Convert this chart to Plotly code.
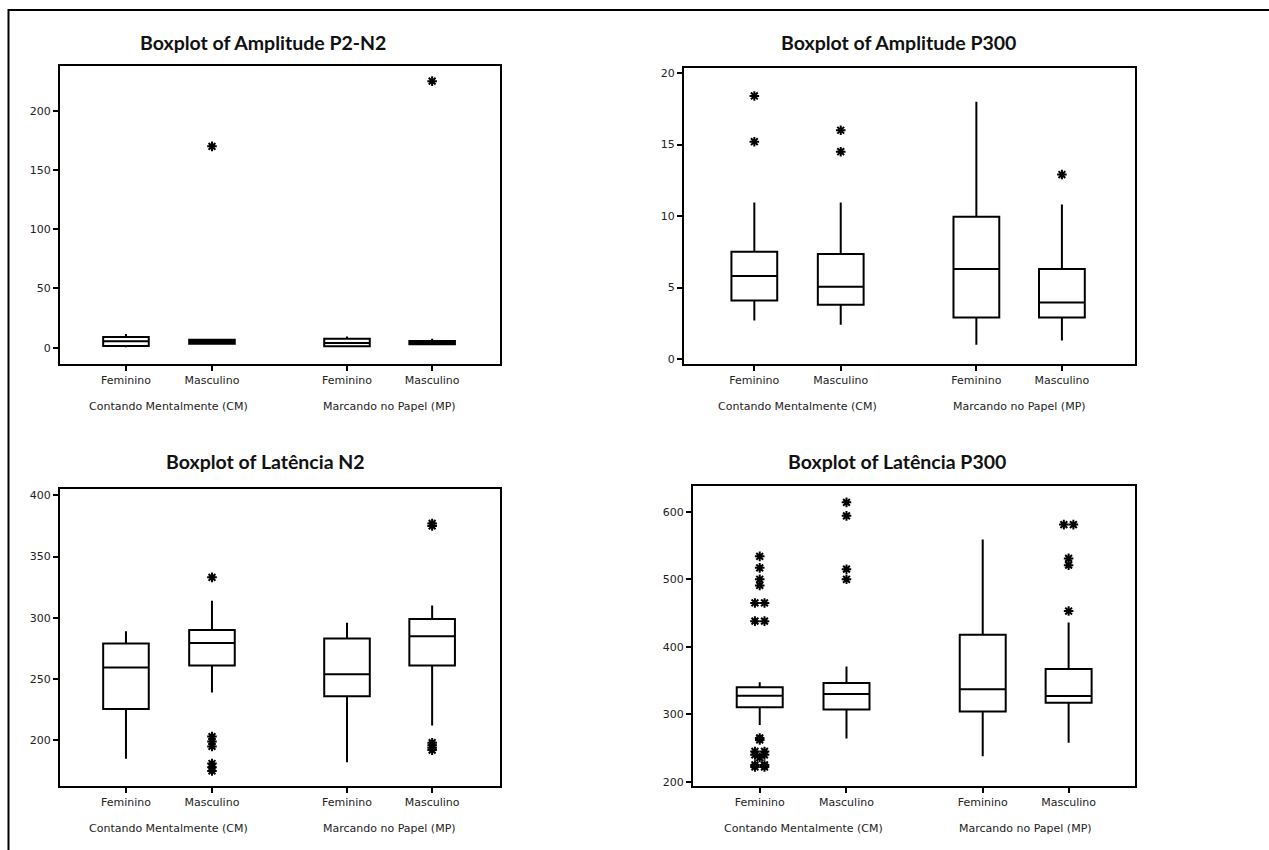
import plotly.graph_objects as go
from collections import Counter

W, H = 1269, 850

genders = ["Feminino", "Masculino", "Feminino", "Masculino"]
groups = ["Contando Mentalmente (CM)", "Marcando no Papel (MP)"]
titles = ["Boxplot of Amplitude P2-N2", "Boxplot of Amplitude P300",
          "Boxplot of Latência N2", "Boxplot of Latência P300"]

# Amplitude P2-N2  (order: CM-Fem, CM-Masc, MP-Fem, MP-Masc)
amp_p2n2_low = [0.5, 3.0, 0.8, 2.8]
amp_p2n2_q1 = [1.5, 3.4, 1.2, 3.0]
amp_p2n2_med = [5.5, 5.0, 4.0, 4.5]
amp_p2n2_q3 = [9.0, 6.7, 7.5, 5.7]
amp_p2n2_high = [11.5, 7.5, 9.5, 7.5]
amp_p2n2_out = [[], [170], [], [225]]

# Amplitude P300
amp_p300_low = [2.7, 2.4, 1.0, 1.3]
amp_p300_q1 = [4.1, 3.8, 2.9, 2.9]
amp_p300_med = [5.8, 5.05, 6.3, 3.95]
amp_p300_q3 = [7.5, 7.35, 9.95, 6.3]
amp_p300_high = [10.95, 10.95, 18.0, 10.8]
amp_p300_out = [[18.4, 15.2], [16.0, 14.5], [], [12.9]]

# Latência N2
lat_n2_low = [185, 239, 182, 212]
lat_n2_q1 = [225.5, 261, 236, 261]
lat_n2_med = [259.5, 279.5, 254, 285]
lat_n2_q3 = [279, 290, 283, 299]
lat_n2_high = [289, 314, 296, 310]
lat_n2_out = [[], [333, 203, 199, 195, 181, 178, 175], [],
              [377, 375, 198, 196, 194, 192]]

# Latência P300
lat_p300_low = [284, 264, 238, 258]
lat_p300_q1 = [310.5, 307, 304, 317]
lat_p300_med = [327.5, 330, 337, 327]
lat_p300_q3 = [340, 346.5, 418, 367]
lat_p300_high = [347.5, 371, 559, 436]
lat_p300_out = [[534, 517, 500, 491, 465, 465, 438, 438,
                 265, 262, 245, 245, 240, 240, 236, 225, 225, 222, 222],
                [614, 594, 515, 500], [],
                [581, 581, 531, 521, 453]]

panels = [
    (amp_p2n2_low, amp_p2n2_q1, amp_p2n2_med, amp_p2n2_q3, amp_p2n2_high, amp_p2n2_out),
    (amp_p300_low, amp_p300_q1, amp_p300_med, amp_p300_q3, amp_p300_high, amp_p300_out),
    (lat_n2_low, lat_n2_q1, lat_n2_med, lat_n2_q3, lat_n2_high, lat_n2_out),
    (lat_p300_low, lat_p300_q1, lat_p300_med, lat_p300_q3, lat_p300_high, lat_p300_out),
]

# layout settings (pixels)
pos = [1, 2, 3.57, 4.56]
dom_px = [((60, 500), (65, 364)), ((684, 1135), (67, 364)),
          ((60, 500), (490, 788)), ((693, 1135), (487, 788))]
xranges = [[0.233, 5.349], [0.186, 5.406], [0.233, 5.349], [0.231, 5.325]]
yranges = [[-13.5, 238], [-0.33, 20.37], [162.5, 404.9], [193.5, 637.8]]
ytickvals = [[0, 50, 100, 150, 200], [0, 5, 10, 15, 20],
             [200, 250, 300, 350, 400], [200, 300, 400, 500, 600]]
title_px = [(263, 42), (898, 42), (265, 462), (897, 462)]
group_y_px = [406.5, 406.5, 830, 830]

fig = go.Figure()
annotations = []
for p, (low, q1, med, q3, high, outs) in enumerate(panels):
    xa = "x" if p == 0 else f"x{p+1}"
    ya = "y" if p == 0 else f"y{p+1}"
    for i in range(4):
        fig.add_trace(go.Box(
            x=[pos[i]], q1=[q1[i]], median=[med[i]], q3=[q3[i]],
            lowerfence=[low[i]], upperfence=[high[i]],
            width=0.53, whiskerwidth=0, fillcolor="white",
            line=dict(color="black", width=2), boxpoints=False,
            showlegend=False, hoverinfo="skip", xaxis=xa, yaxis=ya))
        ov = outs[i]
        if ov:
            cnt = Counter(ov)
            seen = Counter()
            xs = []
            for v in ov:
                k = cnt[v]
                j = seen[v]
                seen[v] += 1
                xs.append(pos[i] + (j - (k - 1) / 2) * 0.11)
            fig.add_trace(go.Scatter(
                x=xs, y=ov, mode="markers",
                marker=dict(symbol="asterisk-open", size=8, color="black",
                            line=dict(color="black", width=2)),
                showlegend=False, hoverinfo="skip", xaxis=xa, yaxis=ya))
    (x0, x1), (y0, y1) = dom_px[p]
    axis_common = dict(showline=True, linecolor="black", linewidth=2, mirror=True,
                       showgrid=False, zeroline=False, ticks="outside", ticklen=5,
                       tickwidth=1.5, tickcolor="black",
                       tickfont=dict(family="DejaVu Sans", size=11, color="#222"))
    fig.update_layout(**{
        ("xaxis" if p == 0 else f"xaxis{p+1}"): dict(
            domain=[x0 / W, x1 / W], range=xranges[p], tickmode="array",
            tickvals=pos, ticktext=genders, anchor=ya, **axis_common),
        ("yaxis" if p == 0 else f"yaxis{p+1}"): dict(
            domain=[1 - y1 / H, 1 - y0 / H], range=yranges[p], tickmode="array",
            tickvals=ytickvals[p], anchor=xa, **axis_common),
    })
    tx, ty = title_px[p]
    annotations.append(dict(text=f"<b>{titles[p]}</b>", x=tx / W, y=1 - ty / H,
                            xref="paper", yref="paper", showarrow=False,
                            xanchor="center", yanchor="middle",
                            font=dict(family="Lato", size=19.5, color="#111")))
    for g, gx in enumerate([(pos[0] + pos[1]) / 2, (pos[2] + pos[3]) / 2]):
        annotations.append(dict(text=groups[g], x=gx, y=1 - group_y_px[p] / H,
                                xref=xa, yref="paper", showarrow=False,
                                xanchor="center", yanchor="middle",
                                font=dict(family="DejaVu Sans", size=11, color="#222")))

fig.update_layout(
    width=W, height=H, margin=dict(l=0, r=0, t=0, b=0),
    paper_bgcolor="white", plot_bgcolor="white",
    annotations=annotations,
    shapes=[dict(type="rect", xref="paper", yref="paper",
                 x0=8.5 / W, x1=1.02, y0=-0.02, y1=1 - 9 / H,
                 line=dict(color="black", width=2))],
)

fig.write_html("out.html")
